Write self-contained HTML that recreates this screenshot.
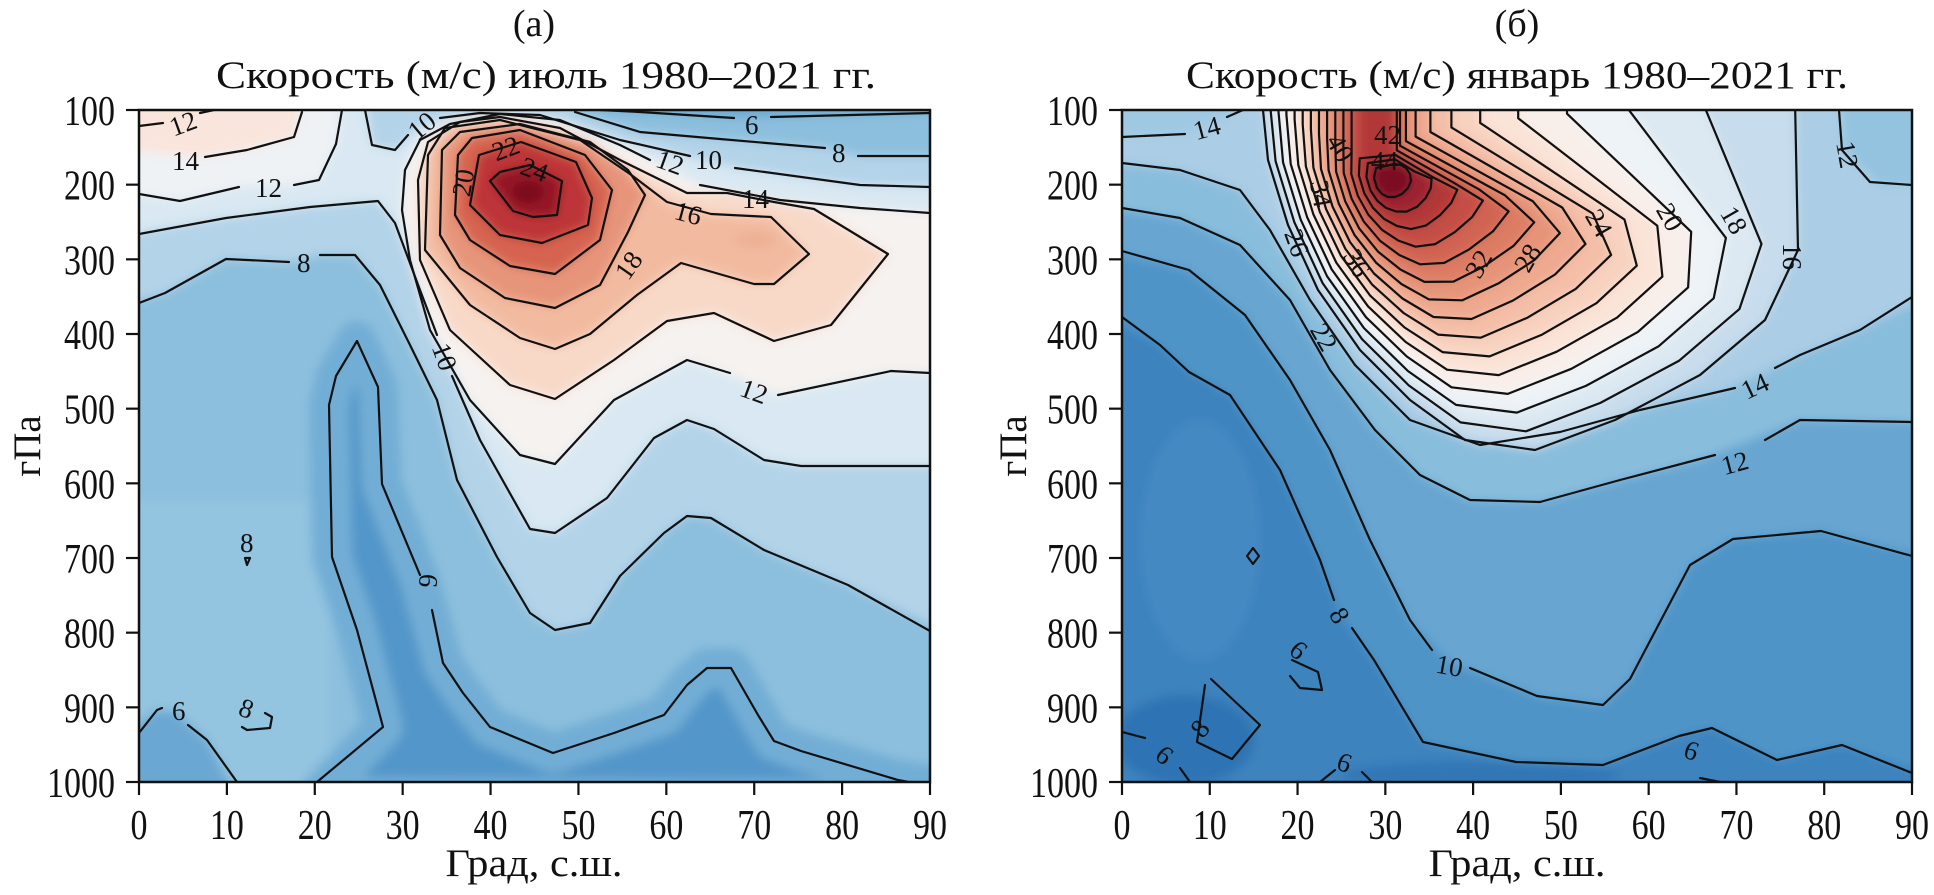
<!DOCTYPE html>
<html><head><meta charset="utf-8"><style>
html,body{margin:0;padding:0;background:#fff;}
svg{display:block;}
text{font-family:"Liberation Serif",serif;fill:#111;}
.ln{fill:none;stroke:#111;stroke-width:2.2;stroke-linejoin:round;stroke-linecap:round;}
.lb{font-size:27px;fill:#222;}
</style></head><body>
<svg id="s" xmlns="http://www.w3.org/2000/svg" width="1934" height="895" viewBox="0 0 1934 895">
<defs>
<clipPath id="cL"><rect x="139" y="110" width="791" height="672"/></clipPath>
<clipPath id="cR"><rect x="1122" y="110" width="790" height="672"/></clipPath>
<filter id="bl" x="-5%" y="-5%" width="110%" height="110%"><feGaussianBlur stdDeviation="5"/></filter>
</defs>

<!-- LEFT PANEL -->
<g clip-path="url(#cL)">
<rect x="139" y="110" width="791" height="672" fill="#8cbfdd"/>
<g filter="url(#bl)">
<rect x="120" y="90" width="830" height="710" fill="#8cbfdd"/>
<path d="M125,500 L125,800 L330,800 L330,500 Z" fill="#93c4e0"/>
<path d="M317,797 L383,727 L357,630 L332,557 L329,405 L336,376 L357,341 L378,387 L382,484 L420,580 L443,663 L463,693 L490,727 L553,753 L614,733 L664,715 L687,685 L707,668 L731,668 L758,715 L774,741 L801,751 L898,780 L945,786 L945,800 Z" fill="#5296c9" stroke="#72add5" stroke-width="40" stroke-linejoin="round"/>
<path d="M125,733 L157,710 L175,712 L207,740 L237,797 L125,797 Z" fill="#6aa7d2"/>
<path d="M125,95 L125,303 L165,293 L226,259 L289,262 L320,255 L355,255 L380,285 L410,345 L437,400 L457,480 L497,557 L530,613 L555,630 L590,623 L620,576 L664,533 L687,516 L711,518 L764,550 L848,585 L945,631 L945,156 L858,156 L830,148 L720,139 L640,132 L575,112 L575,95 Z" fill="#b3d3e8"/>
<path d="M125,95 L125,234 L226,218 L310,207 L378,201 L395,223 L420,290 L437,326 L454,376 L480,440 L530,529 L555,533 L607,498 L654,438 L687,420 L714,429 L764,460 L801,466 L945,466 L945,187 L860,185 L735,168 L685,156 L620,140 L540,115 L480,113 L445,117 L420,126 L395,150 L372,145 L365,95 Z" fill="#d9e8f2"/>
<path d="M600,95 L600,110 L640,112 L734,118 L771,117 L945,113 L945,95 Z" fill="#6ea9d3"/>
<path d="M125,95 L125,194 L180,201 L239,187 L294,185 L319,180 L336,144 L342,95 Z" fill="#eef2f5"/>
<path d="M125,150 L205,157 L247,150 L294,137 L302,95 L125,95 Z" fill="#f9e5dc"/>
<path d="M945,213 L860,208 L780,200 L700,185 L660,165 L620,145 L560,120 L500,114 L450,124 L420,140 L405,170 L402,210 L410,260 L430,330 L470,400 L520,455 L555,464 L614,400 L687,360 L727,373 L778,395 L891,371 L945,373 Z" fill="#f6f2ef"/>
<path d="M774,202 L814,209 L888,254 L831,325 L774,341 L714,313 L667,321 L614,360 L555,399 L510,385 L450,330 L420,260 L418,180 L428,142 L460,122 L500,117 L560,128 L620,160 L687,193 L727,193 Z" fill="#f8d9c8"/>
<path d="M425,250 L428,155 L445,128 L500,120 L580,140 L630,174 L667,202 L711,214 L771,217 L809,254 L774,284 L754,284 L681,263 L637,295 L590,334 L555,349 L520,338 L470,305 Z" fill="#f2bba0"/>
<ellipse cx="755" cy="240" rx="22" ry="9" fill="#eeb095"/>
<path d="M440,235 L442,150 L460,132 L520,124 L590,142 L628,170 L645,195 L628,232 L600,285 L555,308 L505,298 L460,268 Z" fill="#e6957a"/>
<path d="M455,215 L458,155 L472,138 L520,130 L585,155 L612,190 L600,240 L555,274 L510,266 L470,240 Z" fill="#d5634f"/>
<path d="M470,205 L479,155 L521,142 L576,162 L592,198 L588,225 L542,243 L500,235 Z" fill="#bd3538"/>
<path d="M490,181 L500,172 L530,165 L562,181 L557,215 L533,217 L513,211 Z" fill="#941526"/>
<ellipse cx="528" cy="192" rx="16" ry="11" fill="#7a0c1f"/>
</g>
<path class="ln" d="M317,782 L383,727 L357,630 L332,557 L329,405 L336,376 L357,341 L378,387 L382,484 L420,575 M432,610 L443,663 L463,693 L490,727 L553,753 L614,733 L664,715 L687,685 L707,668 L731,668 L758,715 L774,741 L801,751 L898,780 L930,786"/>
<path class="ln" d="M139,733 L157,710 L162,708 M188,725 L207,740 L237,782"/>
<path class="ln" d="M139,303 L165,293 L226,259 L289,262 M320,255 L355,255 L380,285 L410,345 L437,400 L457,480 L497,557 L530,613 L555,630 L590,623 L620,576 L664,533 L687,516 L711,518 L764,550 L848,585 L930,631"/>
<path class="ln" d="M139,234 L226,218 L310,207 L378,201 L395,223 L420,290 L437,335 M452,376 L480,440 L530,529 L555,533 L607,498 L654,438 L687,420 L714,429 L764,460 L801,466 L930,466"/>
<path class="ln" d="M600,110 L640,112 L734,118 M771,117 L930,113"/>
<path class="ln" d="M575,112 L640,132 L720,139 L825,148 M858,156 L930,156"/>
<path class="ln" d="M365,110 L372,145 L395,150 L408,135 M440,118 L480,113 L540,115 L620,140 L690,156 M735,168 L860,185 L930,187"/>
<path class="ln" d="M930,213 L860,208 L780,200 L700,185 M650,160 L620,145 L560,120 L500,114 L450,124 L420,140 L405,170 L402,210 L410,260 L430,330 L470,400 L520,455 L555,464 L614,400 L687,360 L730,373 M778,395 L891,371 L930,373"/>
<path class="ln" d="M774,202 L814,209 L888,254 L831,325 L774,341 L714,313 L667,321 L614,360 L555,399 L510,385 L450,330 L420,260 L418,180 L428,142 L460,122 L500,117 L560,128 L620,160 L687,193 L727,193 Z"/>
<path class="ln" d="M425,250 L428,155 L445,128 L500,120 L580,140 L630,174 L667,202 L711,214 L771,217 L809,254 L774,284 L754,284 L681,263 L637,295 L590,334 L555,349 L520,338 L470,305 Z"/>
<path class="ln" d="M440,235 L442,150 L460,132 L520,124 L590,142 L628,170 L645,195 L628,232 L600,285 L555,308 L505,298 L460,268 Z"/>
<path class="ln" d="M455,215 L458,155 L472,138 L520,130 L585,155 L612,190 L600,240 L555,274 L510,266 L470,240 Z"/>
<path class="ln" d="M470,205 L479,155 L521,142 L576,162 L592,198 L588,225 L542,243 L500,235 Z"/>
<path class="ln" d="M490,181 L500,172 L530,165 L562,181 L557,215 L533,217 L513,211 Z"/>
<path class="ln" d="M139,126 L163,123 M200,113 L214,110"/>
<path class="ln" d="M205,157 L247,150 L294,137 L302,112"/>
<path class="ln" d="M139,194 L180,201 L239,187 M294,185 L319,180 L336,144 L342,110"/>
<path class="ln" d="M245,558 L250,558 L247,565 Z M242,727 L247,730 L270,728 L272,717 L265,713"/>
<g class="lb">
<text x="170" y="133" transform="rotate(-20 182 125)">12</text>
<text x="172" y="170">14</text>
<text x="255" y="197">12</text>
<text x="297" y="272">8</text>
<text x="433" y="365" transform="rotate(70 445 355)">10</text>
<text x="417" y="594" transform="rotate(95 428 585)">6</text>
<text x="240" y="552">8</text>
<text x="240" y="718" transform="rotate(20 248 708)">8</text>
<text x="172" y="720">6</text>
<text x="450" y="194" transform="rotate(-80 462 184)">20</text>
<text x="492" y="158" transform="rotate(-20 504 148)">22</text>
<text x="521" y="178" transform="rotate(20 533 169)">24</text>
<text x="615" y="276" transform="rotate(-55 627 266)">18</text>
<text x="675" y="222" transform="rotate(15 687 212)">16</text>
<text x="657" y="171" transform="rotate(20 669 161)">12</text>
<text x="695" y="169">10</text>
<text x="742" y="208">14</text>
<text x="832" y="162">8</text>
<text x="745" y="134">6</text>
<text x="741" y="400" transform="rotate(20 753 390)">12</text>
<text x="408" y="136" transform="rotate(-40 420 126)">10</text>
</g>
</g>

<!-- RIGHT PANEL -->
<g clip-path="url(#cR)">
<rect x="1122" y="110" width="790" height="672" fill="#3c83be"/>
<g filter="url(#bl)" id="rf">
<rect x="1100" y="90" width="830" height="710" fill="#3c83be"/>
<ellipse cx="1185" cy="740" rx="70" ry="45" fill="#2f73b3"/>
<ellipse cx="1480" cy="775" rx="140" ry="14" fill="#3176b5"/>
<ellipse cx="1200" cy="540" rx="60" ry="120" fill="#4589c2"/>
<path d="M1108,317 L1160,345 L1189,372 L1230,395 L1280,470 L1320,560 L1341,616 L1374,660 L1423,742 L1516,762 L1603,765 L1679,736 L1712,728 L1777,760 L1842,745 L1926,773 L1926,95 L1108,95 Z" fill="#4f94c7"/>
<path d="M1108,251 L1189,270 L1245,315 L1290,380 L1330,450 L1370,540 L1410,620 L1450,662 L1537,696 L1603,705 L1630,679 L1690,565 L1733,539 L1821,531 L1926,556 L1926,95 L1108,95 Z" fill="#68a6d1"/>
<path d="M1108,208 L1180,218 L1240,245 L1290,300 L1330,370 L1375,430 L1420,475 L1470,500 L1540,502 L1620,480 L1700,460 L1800,420 L1926,422 L1926,95 L1108,95 Z" fill="#89bddc"/>
<path d="M1108,163 L1180,170 L1240,190 L1270,230 L1310,300 L1355,365 L1410,420 L1480,445 L1560,432 L1640,410 L1720,392 L1800,355 L1860,330 L1926,297 L1926,95 L1108,95 Z" fill="#abcde5"/>
<path d="M1108,95 L1108,137 L1183,134 L1227,117 L1243,95 Z" fill="#9fc9e3"/>
<path d="M1840,95 L1845,150 L1880,185 L1926,185 L1926,95 Z" fill="#93c3df"/>
</g>
<g id="rl"></g>
<path class="ln" d="M1122,317 L1160,345 L1189,372 L1230,395 L1280,470 L1320,560 L1334,600 M1352,628 L1374,660 L1423,742 L1516,762 L1603,765 L1679,736 L1712,728 L1777,760 L1842,745 L1912,773"/>
<path class="ln" d="M1122,251 L1189,270 L1245,315 L1290,380 L1330,450 L1370,540 L1410,620 L1432,650 M1470,668 L1537,696 L1603,705 L1630,679 L1690,565 L1733,539 L1821,531 L1912,556"/>
<path class="ln" d="M1122,208 L1180,218 L1240,245 L1290,300 L1330,370 L1375,430 L1420,475 L1470,500 L1540,502 L1620,480 L1715,455 M1765,440 L1800,420 L1912,422"/>
<path class="ln" d="M1122,163 L1180,170 L1240,190 L1270,230 L1310,300 L1355,365 L1410,420 L1480,445 L1560,432 L1640,410 L1735,388 M1775,368 L1800,355 L1860,330 L1912,297"/>
<path class="ln" d="M1122,137 L1185,134 M1227,117 L1243,110"/>
<path class="ln" d="M1839,110 L1842,150 L1870,182 L1912,185"/>
<path class="ln" d="M1253,548 L1259,556 L1253,564 L1247,556 Z"/>
<path class="ln" d="M1292,660 L1318,672 L1322,690 L1300,688 L1290,676"/>
<path class="ln" d="M1211,679 L1260,725 L1232,759 L1197,742 L1205,685"/>
<path class="ln" d="M1122,732 L1145,738 M1180,768 L1190,782"/>
<path class="ln" d="M1320,782 L1335,770 M1362,772 L1372,782"/>
<path class="ln" d="M1700,778 L1720,782"/>
<g class="lb">
<text x="1193" y="137" transform="rotate(-15 1207 127)">14</text>
<text x="1836" y="163" transform="rotate(80 1848 153)">12</text>
<text x="1657" y="227" transform="rotate(60 1671 217)">20</text>
<text x="1721" y="230" transform="rotate(60 1735 220)">18</text>
<text x="1779" y="267" transform="rotate(90 1793 257)">16</text>
<text x="1586" y="233" transform="rotate(60 1600 223)">24</text>
<text x="1513" y="267" transform="rotate(-60 1527 257)">28</text>
<text x="1464" y="273" transform="rotate(-60 1478 263)">32</text>
<text x="1344" y="273" transform="rotate(60 1358 263)">36</text>
<text x="1308" y="204" transform="rotate(80 1322 194)">34</text>
<text x="1284" y="253" transform="rotate(70 1298 243)">26</text>
<text x="1311" y="347" transform="rotate(60 1325 337)">22</text>
<text x="1327" y="158" transform="rotate(60 1341 148)">40</text>
<text x="1374" y="144">42</text>
<text x="1371" y="170">44</text>
<text x="1741" y="395" transform="rotate(-25 1755 385)">14</text>
<text x="1721" y="472" transform="rotate(-15 1735 462)">12</text>
<text x="1436" y="675" transform="rotate(10 1450 665)">10</text>
<text x="1333" y="626" transform="rotate(60 1341 616)">8</text>
<text x="1292" y="660" transform="rotate(40 1300 650)">6</text>
<text x="1192" y="737" transform="rotate(-50 1200 727)">8</text>
<text x="1158" y="765" transform="rotate(40 1166 755)">6</text>
<text x="1338" y="772" transform="rotate(20 1346 762)">6</text>
<text x="1685" y="760" transform="rotate(20 1693 750)">6</text>
</g>
</g>

<rect x="139" y="110" width="791" height="672" fill="none" stroke="#111" stroke-width="2.5"/>
<rect x="1122" y="110" width="790" height="672" fill="none" stroke="#111" stroke-width="2.5"/>
<g id="ax"></g>

<text x="534" y="36" font-size="38" text-anchor="middle">(а)</text>
<text x="1517" y="36" font-size="38" text-anchor="middle">(б)</text>
<text x="546" y="88" font-size="39" text-anchor="middle" textLength="660" lengthAdjust="spacingAndGlyphs">Скорость (м/с) июль 1980–2021 гг.</text>
<text x="1517" y="88" font-size="39" text-anchor="middle" textLength="662" lengthAdjust="spacingAndGlyphs">Скорость (м/с) январь 1980–2021 гг.</text>
<text x="534" y="876" font-size="39" text-anchor="middle" textLength="177" lengthAdjust="spacingAndGlyphs">Град, с.ш.</text>
<text x="1517" y="876" font-size="39" text-anchor="middle" textLength="177" lengthAdjust="spacingAndGlyphs">Град, с.ш.</text>
<text x="0" y="0" font-size="39" text-anchor="middle" transform="translate(40,446) rotate(-90)">гПа</text>
<text x="0" y="0" font-size="39" text-anchor="middle" transform="translate(1026,446) rotate(-90)">гПа</text>
</svg>
<script>
(function(){
var NS="http://www.w3.org/2000/svg";
function el(tag,attrs,parent){var e=document.createElementNS(NS,tag);for(var k in attrs)e.setAttribute(k,attrs[k]);if(parent)parent.appendChild(e);return e;}
var ax=document.getElementById('ax');
function axes(x0,w){
  for(var i=0;i<=9;i++){
    var x=x0+w*i/9;
    el('line',{x1:x,y1:782,x2:x,y2:795,stroke:'#111','stroke-width':2.2},ax);
    var s=String(i*10);var t=el('text',{x:x,y:839,'font-size':42,'text-anchor':'middle',textLength:17*s.length,lengthAdjust:'spacingAndGlyphs'},ax);t.textContent=s;
  }
  for(var k=0;k<=9;k++){
    var y=110+672*k/9;
    el('line',{x1:x0-13,y1:y,x2:x0,y2:y,stroke:'#111','stroke-width':2.2},ax);
    var s2=String(100+100*k);var t2=el('text',{x:x0-24,y:y+15,'font-size':42,'text-anchor':'end',textLength:17*s2.length,lengthAdjust:'spacingAndGlyphs'},ax);t2.textContent=s2;
  }
}
axes(139,791);axes(1122,790);
var I=[[1376,168],[1374,178],[1377,188],[1382,194],[1388,197],[1395,197],[1402,194],[1408,188],[1411,181],[1410,174],[1406,168],[1401,165],[1395,164]];
var O=[[1262,100],[1268,160],[1288,225],[1318,290],[1360,350],[1410,400],[1465,440],[1535,450],[1615,420],[1700,375],[1765,320],[1798,250],[1795,100]];
var EX=[1,1,1,1,1,1,1,1,1,1,1,1.3,3.5];
var col={44:'#7a0c20',42:'#9c2230',40:'#b23739',38:'#c44d44',36:'#d16452',34:'#dc7c63',32:'#e69479',30:'#eea98f',28:'#f4bea7',26:'#f8d2bf',24:'#fae3d7',22:'#f9efea',20:'#eef3f7',18:'#dde9f2',16:'#c7dcec'};
var rf=document.getElementById('rf'),rl=document.getElementById('rl');
for(var L=16;L<=44;L+=2){
  var t=(44-L)/28;
  var P=[];for(var j=0;j<13;j++){var tt=Math.pow(t,EX[j]);P.push([I[j][0]+tt*(O[j][0]-I[j][0]),I[j][1]+t*(O[j][1]-I[j][1])]);}
  var d='M'+P.map(function(p){return p[0].toFixed(1)+','+p[1].toFixed(1);}).join(' L');
  var fd=d+' L'+P[12][0].toFixed(1)+',90 L'+P[0][0].toFixed(1)+',90 Z';
  el('path',{d:(L>=42?d+' Z':fd),fill:col[L]},rf);
  var sd;
  if(L>=40){sd=d+' Z';}
  else{sd='M'+P[0][0].toFixed(1)+',100 L'+d.substring(1)+' L'+P[12][0].toFixed(1)+',100';}
  el('path',{d:sd,'class':'ln'},rl);
}
})();
</script>
</body></html>
